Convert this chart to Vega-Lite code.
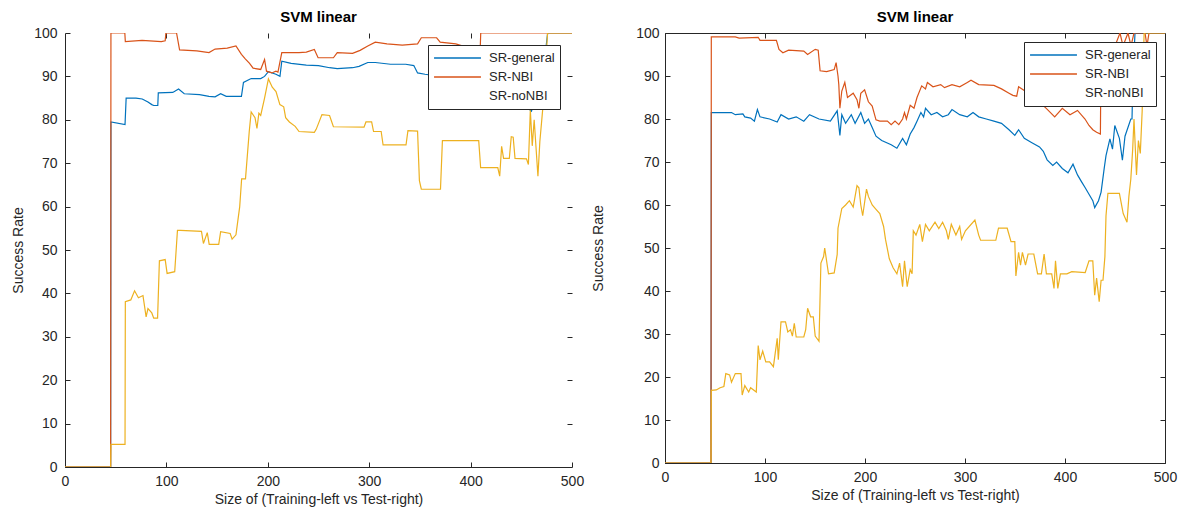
{
  "$schema": "https://vega.github.io/schema/vega-lite/v6.json",
  "background": "white",
  "padding": {"left": 11, "top": 9, "right": 5, "bottom": 5},
  "config": {
    "font": "Liberation Sans",
    "view": {"stroke": null},
    "axis": {"labelFontSize": 14, "titleFontSize": 14, "labelColor": "#262626", "titleColor": "#262626", "domainColor": "#262626", "tickColor": "#262626", "grid": false, "labelFont": "Liberation Sans", "titleFont": "Liberation Sans", "titleFontWeight": "normal", "tickSize": -5, "labelPadding": 13, "labelOverlap": false, "labelFlush": false},
    "title": {"fontSize": 15, "fontWeight": "bold", "color": "#000000", "offset": 1, "anchor": "middle", "font": "Liberation Sans"},
    "legend": {"orient": "top-right", "offset": 12, "title": null, "strokeColor": "#262626", "fillColor": "white", "padding": 5, "symbolType": "stroke", "symbolSize": 2200, "symbolStrokeWidth": 1.5, "labelFontSize": 13, "labelColor": "#262626", "rowPadding": 3, "clipHeight": 16, "labelOffset": 7, "labelLimit": 200, "labelFont": "Liberation Sans"}
  },
  "datasets": {
    "left": [
      {"s":"SR-general","x":0,"y":0},{"s":"SR-general","x":45,"y":0},{"s":"SR-general","x":45.3,"y":79.5},{"s":"SR-general","x":59.2,"y":78.9},{"s":"SR-general","x":60.3,"y":85},{"s":"SR-general","x":70,"y":85},{"s":"SR-general","x":76.2,"y":84.8},{"s":"SR-general","x":81.8,"y":84.1},{"s":"SR-general","x":85.6,"y":83.5},{"s":"SR-general","x":87.5,"y":83.3},{"s":"SR-general","x":91.5,"y":83.3},{"s":"SR-general","x":92,"y":86.2},{"s":"SR-general","x":106.3,"y":86.3},{"s":"SR-general","x":112,"y":87.1},{"s":"SR-general","x":117.6,"y":86},{"s":"SR-general","x":132.7,"y":85.8},{"s":"SR-general","x":142,"y":85.4},{"s":"SR-general","x":148,"y":85.3},{"s":"SR-general","x":153.5,"y":86},{"s":"SR-general","x":159,"y":85.4},{"s":"SR-general","x":174,"y":85.4},{"s":"SR-general","x":176,"y":88.6},{"s":"SR-general","x":183.6,"y":89.5},{"s":"SR-general","x":193,"y":89.5},{"s":"SR-general","x":196.8,"y":90},{"s":"SR-general","x":200.6,"y":91.1},{"s":"SR-general","x":208,"y":90.5},{"s":"SR-general","x":212,"y":90},{"s":"SR-general","x":213.8,"y":93.5},{"s":"SR-general","x":223,"y":93},{"s":"SR-general","x":238,"y":92.6},{"s":"SR-general","x":250,"y":92.5},{"s":"SR-general","x":261,"y":92},{"s":"SR-general","x":268.5,"y":91.8},{"s":"SR-general","x":283.6,"y":92},{"s":"SR-general","x":290,"y":92.3},{"s":"SR-general","x":298.6,"y":93.2},{"s":"SR-general","x":306,"y":93.2},{"s":"SR-general","x":321,"y":92.8},{"s":"SR-general","x":336,"y":92.8},{"s":"SR-general","x":344,"y":92.5},{"s":"SR-general","x":347.7,"y":90.8},{"s":"SR-general","x":355,"y":90.5},{"s":"SR-general","x":370,"y":90},{"s":"SR-general","x":390,"y":89},{"s":"SR-general","x":410,"y":88},{"s":"SR-general","x":430,"y":87},{"s":"SR-general","x":445,"y":85},{"s":"SR-general","x":455,"y":83},{"s":"SR-general","x":460,"y":82},{"s":"SR-general","x":463,"y":84},{"s":"SR-general","x":468,"y":87},{"s":"SR-general","x":472,"y":92},{"s":"SR-general","x":476,"y":100},{"s":"SR-general","x":500,"y":100},
      {"s":"SR-NBI","x":0,"y":0},{"s":"SR-NBI","x":45,"y":0},{"s":"SR-NBI","x":45.3,"y":100},{"s":"SR-NBI","x":59,"y":100},{"s":"SR-NBI","x":59.5,"y":98},{"s":"SR-NBI","x":76,"y":98.3},{"s":"SR-NBI","x":95,"y":98},{"s":"SR-NBI","x":98.8,"y":98.2},{"s":"SR-NBI","x":99.5,"y":100},{"s":"SR-NBI","x":110,"y":100},{"s":"SR-NBI","x":113,"y":96.1},{"s":"SR-NBI","x":130,"y":95.9},{"s":"SR-NBI","x":142,"y":95.5},{"s":"SR-NBI","x":148,"y":96.3},{"s":"SR-NBI","x":160,"y":96.5},{"s":"SR-NBI","x":168.6,"y":97},{"s":"SR-NBI","x":174,"y":95.1},{"s":"SR-NBI","x":178,"y":94},{"s":"SR-NBI","x":182,"y":93},{"s":"SR-NBI","x":185.5,"y":91.9},{"s":"SR-NBI","x":193,"y":91.6},{"s":"SR-NBI","x":196.8,"y":93.9},{"s":"SR-NBI","x":198.7,"y":91.2},{"s":"SR-NBI","x":204,"y":90.8},{"s":"SR-NBI","x":208,"y":91.2},{"s":"SR-NBI","x":210,"y":91},{"s":"SR-NBI","x":213.8,"y":95.5},{"s":"SR-NBI","x":230.8,"y":95.5},{"s":"SR-NBI","x":238,"y":95.6},{"s":"SR-NBI","x":245.9,"y":96.2},{"s":"SR-NBI","x":249.6,"y":94.3},{"s":"SR-NBI","x":264.7,"y":94.3},{"s":"SR-NBI","x":268.5,"y":95.5},{"s":"SR-NBI","x":283.6,"y":95.3},{"s":"SR-NBI","x":291,"y":96},{"s":"SR-NBI","x":298.6,"y":97},{"s":"SR-NBI","x":306,"y":97.9},{"s":"SR-NBI","x":317.5,"y":97.5},{"s":"SR-NBI","x":332.6,"y":97.2},{"s":"SR-NBI","x":347.7,"y":97.5},{"s":"SR-NBI","x":351.4,"y":98.9},{"s":"SR-NBI","x":366.5,"y":98.9},{"s":"SR-NBI","x":370,"y":97.9},{"s":"SR-NBI","x":385.4,"y":97.5},{"s":"SR-NBI","x":394.8,"y":96.8},{"s":"SR-NBI","x":405,"y":96.5},{"s":"SR-NBI","x":409.5,"y":96.5},{"s":"SR-NBI","x":410,"y":100},{"s":"SR-NBI","x":500,"y":100},
      {"s":"SR-noNBI","x":0,"y":0},{"s":"SR-noNBI","x":45,"y":0},{"s":"SR-noNBI","x":45.3,"y":5.2},{"s":"SR-noNBI","x":59.2,"y":5.2},{"s":"SR-noNBI","x":59.5,"y":38.1},{"s":"SR-noNBI","x":64.9,"y":38.5},{"s":"SR-noNBI","x":68.6,"y":40.6},{"s":"SR-noNBI","x":72.4,"y":39},{"s":"SR-noNBI","x":76.9,"y":39.5},{"s":"SR-noNBI","x":80,"y":34.6},{"s":"SR-noNBI","x":81.8,"y":36.5},{"s":"SR-noNBI","x":85.6,"y":35.5},{"s":"SR-noNBI","x":87.5,"y":34.3},{"s":"SR-noNBI","x":91.3,"y":34.3},{"s":"SR-noNBI","x":93.1,"y":47.5},{"s":"SR-noNBI","x":98.8,"y":47.8},{"s":"SR-noNBI","x":100.7,"y":44.6},{"s":"SR-noNBI","x":108.2,"y":45},{"s":"SR-noNBI","x":110.9,"y":54.5},{"s":"SR-noNBI","x":113.9,"y":54.5},{"s":"SR-noNBI","x":134.6,"y":54.3},{"s":"SR-noNBI","x":136.5,"y":51.5},{"s":"SR-noNBI","x":140.3,"y":54},{"s":"SR-noNBI","x":142.2,"y":51.3},{"s":"SR-noNBI","x":151.6,"y":51.3},{"s":"SR-noNBI","x":153.5,"y":54.2},{"s":"SR-noNBI","x":162.9,"y":53.8},{"s":"SR-noNBI","x":164.8,"y":52.5},{"s":"SR-noNBI","x":168.6,"y":53.5},{"s":"SR-noNBI","x":172.3,"y":60},{"s":"SR-noNBI","x":174.2,"y":66.4},{"s":"SR-noNBI","x":178,"y":66.4},{"s":"SR-noNBI","x":181.7,"y":77.3},{"s":"SR-noNBI","x":183.6,"y":81.8},{"s":"SR-noNBI","x":187.4,"y":80.5},{"s":"SR-noNBI","x":189.3,"y":78},{"s":"SR-noNBI","x":191.2,"y":81.5},{"s":"SR-noNBI","x":193,"y":81},{"s":"SR-noNBI","x":196.8,"y":85},{"s":"SR-noNBI","x":200.6,"y":89.4},{"s":"SR-noNBI","x":204.4,"y":87.5},{"s":"SR-noNBI","x":208.1,"y":86.5},{"s":"SR-noNBI","x":211.9,"y":83.5},{"s":"SR-noNBI","x":215.7,"y":83},{"s":"SR-noNBI","x":217.6,"y":80.5},{"s":"SR-noNBI","x":221.3,"y":79.5},{"s":"SR-noNBI","x":227,"y":78.5},{"s":"SR-noNBI","x":230.8,"y":77.3},{"s":"SR-noNBI","x":245.9,"y":77.1},{"s":"SR-noNBI","x":247.7,"y":77.8},{"s":"SR-noNBI","x":253.4,"y":81.2},{"s":"SR-noNBI","x":260.9,"y":81},{"s":"SR-noNBI","x":264.7,"y":78.4},{"s":"SR-noNBI","x":294.9,"y":78.3},{"s":"SR-noNBI","x":296.8,"y":79.5},{"s":"SR-noNBI","x":302.4,"y":79.5},{"s":"SR-noNBI","x":304.3,"y":77.3},{"s":"SR-noNBI","x":311.8,"y":77.3},{"s":"SR-noNBI","x":313.7,"y":74.2},{"s":"SR-noNBI","x":336.3,"y":74.2},{"s":"SR-noNBI","x":338.2,"y":77.5},{"s":"SR-noNBI","x":347.7,"y":77.4},{"s":"SR-noNBI","x":349.5,"y":66},{"s":"SR-noNBI","x":351.4,"y":64},{"s":"SR-noNBI","x":370.3,"y":64},{"s":"SR-noNBI","x":372.2,"y":75.2},{"s":"SR-noNBI","x":408,"y":75.2},{"s":"SR-noNBI","x":409.9,"y":69},{"s":"SR-noNBI","x":426.8,"y":69},{"s":"SR-noNBI","x":428.7,"y":67},{"s":"SR-noNBI","x":430.6,"y":73.9},{"s":"SR-noNBI","x":432.5,"y":71.1},{"s":"SR-noNBI","x":438.2,"y":71.1},{"s":"SR-noNBI","x":440.1,"y":76.1},{"s":"SR-noNBI","x":442,"y":76},{"s":"SR-noNBI","x":443.8,"y":71.1},{"s":"SR-noNBI","x":455.1,"y":71},{"s":"SR-noNBI","x":457,"y":69.7},{"s":"SR-noNBI","x":458.9,"y":82.2},{"s":"SR-noNBI","x":460.8,"y":74},{"s":"SR-noNBI","x":462.7,"y":80},{"s":"SR-noNBI","x":466.4,"y":67},{"s":"SR-noNBI","x":468.3,"y":75},{"s":"SR-noNBI","x":472.1,"y":85},{"s":"SR-noNBI","x":475.9,"y":100},{"s":"SR-noNBI","x":500,"y":100}
    ],
    "right": [
      {"s":"SR-general","x":0,"y":0},{"s":"SR-general","x":46,"y":0},{"s":"SR-general","x":46.3,"y":81.5},{"s":"SR-general","x":66.5,"y":81.5},{"s":"SR-general","x":70.3,"y":81},{"s":"SR-general","x":77.9,"y":81.2},{"s":"SR-general","x":79.8,"y":80.5},{"s":"SR-general","x":85.6,"y":80.2},{"s":"SR-general","x":89.4,"y":79.5},{"s":"SR-general","x":92.4,"y":82.2},{"s":"SR-general","x":95,"y":80.5},{"s":"SR-general","x":104.6,"y":80},{"s":"SR-general","x":112.2,"y":79.3},{"s":"SR-general","x":116,"y":81},{"s":"SR-general","x":123.6,"y":80},{"s":"SR-general","x":131.2,"y":80.5},{"s":"SR-general","x":138.8,"y":79.5},{"s":"SR-general","x":144.5,"y":81},{"s":"SR-general","x":154,"y":80},{"s":"SR-general","x":165.4,"y":79.5},{"s":"SR-general","x":172.2,"y":81.9},{"s":"SR-general","x":174.9,"y":76.2},{"s":"SR-general","x":176.8,"y":81},{"s":"SR-general","x":180.6,"y":79},{"s":"SR-general","x":186.3,"y":81},{"s":"SR-general","x":190.1,"y":79},{"s":"SR-general","x":195.8,"y":81.5},{"s":"SR-general","x":199.6,"y":79},{"s":"SR-general","x":203.4,"y":80},{"s":"SR-general","x":207.2,"y":78},{"s":"SR-general","x":211,"y":76},{"s":"SR-general","x":216.7,"y":75},{"s":"SR-general","x":226.2,"y":74},{"s":"SR-general","x":231.9,"y":73.2},{"s":"SR-general","x":237.6,"y":75.5},{"s":"SR-general","x":241.4,"y":74},{"s":"SR-general","x":245.2,"y":76.5},{"s":"SR-general","x":249,"y":78},{"s":"SR-general","x":252,"y":79.5},{"s":"SR-general","x":255.9,"y":81.5},{"s":"SR-general","x":258.6,"y":80.5},{"s":"SR-general","x":260.5,"y":82.5},{"s":"SR-general","x":266.2,"y":81},{"s":"SR-general","x":271.9,"y":81.5},{"s":"SR-general","x":277.6,"y":80.5},{"s":"SR-general","x":283.3,"y":81},{"s":"SR-general","x":287,"y":82.2},{"s":"SR-general","x":294.7,"y":81},{"s":"SR-general","x":302.3,"y":80.5},{"s":"SR-general","x":308,"y":81.5},{"s":"SR-general","x":313.7,"y":80.5},{"s":"SR-general","x":321.3,"y":80},{"s":"SR-general","x":328.9,"y":79.5},{"s":"SR-general","x":336.5,"y":79},{"s":"SR-general","x":344,"y":77.5},{"s":"SR-general","x":349.8,"y":76.2},{"s":"SR-general","x":353.6,"y":77.5},{"s":"SR-general","x":359.3,"y":75.5},{"s":"SR-general","x":366.9,"y":74.5},{"s":"SR-general","x":374.5,"y":73.5},{"s":"SR-general","x":378.3,"y":72.5},{"s":"SR-general","x":382.1,"y":70.5},{"s":"SR-general","x":387.8,"y":69.2},{"s":"SR-general","x":391.6,"y":70},{"s":"SR-general","x":397.3,"y":68.5},{"s":"SR-general","x":403,"y":67.5},{"s":"SR-general","x":408,"y":69.5},{"s":"SR-general","x":412.5,"y":67},{"s":"SR-general","x":416.3,"y":65.5},{"s":"SR-general","x":420.2,"y":64},{"s":"SR-general","x":424,"y":62.5},{"s":"SR-general","x":427.8,"y":61},{"s":"SR-general","x":429.7,"y":59.4},{"s":"SR-general","x":433.5,"y":61},{"s":"SR-general","x":436.1,"y":63},{"s":"SR-general","x":439.2,"y":68.5},{"s":"SR-general","x":441,"y":71.5},{"s":"SR-general","x":444.9,"y":75.4},{"s":"SR-general","x":447.5,"y":73},{"s":"SR-general","x":449.8,"y":78.5},{"s":"SR-general","x":454.4,"y":75.5},{"s":"SR-general","x":457.4,"y":70.4},{"s":"SR-general","x":460,"y":76},{"s":"SR-general","x":465.8,"y":80},{"s":"SR-general","x":467,"y":80},{"s":"SR-general","x":468,"y":90},{"s":"SR-general","x":470,"y":100},{"s":"SR-general","x":500,"y":100},
      {"s":"SR-NBI","x":0,"y":0},{"s":"SR-NBI","x":46,"y":0},{"s":"SR-NBI","x":46.3,"y":99.1},{"s":"SR-NBI","x":70.3,"y":99.1},{"s":"SR-NBI","x":74.1,"y":98.8},{"s":"SR-NBI","x":93.2,"y":99},{"s":"SR-NBI","x":95,"y":98.3},{"s":"SR-NBI","x":111.4,"y":98.3},{"s":"SR-NBI","x":114,"y":96.2},{"s":"SR-NBI","x":117.9,"y":95.4},{"s":"SR-NBI","x":123.6,"y":96},{"s":"SR-NBI","x":138.8,"y":95.8},{"s":"SR-NBI","x":142.6,"y":95},{"s":"SR-NBI","x":150.2,"y":96.2},{"s":"SR-NBI","x":153.2,"y":96},{"s":"SR-NBI","x":155.1,"y":91.2},{"s":"SR-NBI","x":161.6,"y":91},{"s":"SR-NBI","x":169.2,"y":91.5},{"s":"SR-NBI","x":171.1,"y":93.1},{"s":"SR-NBI","x":173,"y":90},{"s":"SR-NBI","x":173.8,"y":88},{"s":"SR-NBI","x":174.9,"y":82.5},{"s":"SR-NBI","x":176.8,"y":86.5},{"s":"SR-NBI","x":179.8,"y":88.5},{"s":"SR-NBI","x":182.5,"y":85},{"s":"SR-NBI","x":188.2,"y":86},{"s":"SR-NBI","x":192,"y":84.5},{"s":"SR-NBI","x":193.9,"y":82.5},{"s":"SR-NBI","x":195.8,"y":86},{"s":"SR-NBI","x":199.6,"y":86.8},{"s":"SR-NBI","x":203.4,"y":84},{"s":"SR-NBI","x":207.2,"y":83},{"s":"SR-NBI","x":211,"y":79.8},{"s":"SR-NBI","x":214.8,"y":79.5},{"s":"SR-NBI","x":222.4,"y":79.5},{"s":"SR-NBI","x":226.2,"y":78.7},{"s":"SR-NBI","x":230,"y":79.5},{"s":"SR-NBI","x":233.8,"y":78.7},{"s":"SR-NBI","x":237.6,"y":80},{"s":"SR-NBI","x":239.5,"y":81.5},{"s":"SR-NBI","x":241.4,"y":80},{"s":"SR-NBI","x":245.2,"y":83.2},{"s":"SR-NBI","x":249,"y":82.5},{"s":"SR-NBI","x":252,"y":85},{"s":"SR-NBI","x":256.7,"y":87.7},{"s":"SR-NBI","x":260.5,"y":87},{"s":"SR-NBI","x":262.4,"y":88.5},{"s":"SR-NBI","x":268,"y":87.5},{"s":"SR-NBI","x":275.7,"y":88},{"s":"SR-NBI","x":279.5,"y":87.3},{"s":"SR-NBI","x":287,"y":88},{"s":"SR-NBI","x":294.7,"y":87.5},{"s":"SR-NBI","x":302.3,"y":88.5},{"s":"SR-NBI","x":306,"y":89},{"s":"SR-NBI","x":313.7,"y":88},{"s":"SR-NBI","x":328.9,"y":87.8},{"s":"SR-NBI","x":336.5,"y":87},{"s":"SR-NBI","x":344,"y":86},{"s":"SR-NBI","x":347.9,"y":85.5},{"s":"SR-NBI","x":351.7,"y":85.3},{"s":"SR-NBI","x":353.6,"y":87.5},{"s":"SR-NBI","x":360,"y":86.5},{"s":"SR-NBI","x":370,"y":85},{"s":"SR-NBI","x":382,"y":82.3},{"s":"SR-NBI","x":389.7,"y":80.5},{"s":"SR-NBI","x":397.3,"y":82.5},{"s":"SR-NBI","x":405,"y":81},{"s":"SR-NBI","x":412.5,"y":82},{"s":"SR-NBI","x":420,"y":80},{"s":"SR-NBI","x":424,"y":78.5},{"s":"SR-NBI","x":427.8,"y":77.5},{"s":"SR-NBI","x":431.6,"y":76.9},{"s":"SR-NBI","x":435.4,"y":76.5},{"s":"SR-NBI","x":436,"y":95},{"s":"SR-NBI","x":450,"y":97},{"s":"SR-NBI","x":455,"y":100},{"s":"SR-NBI","x":458,"y":97},{"s":"SR-NBI","x":463,"y":100},{"s":"SR-NBI","x":466,"y":97},{"s":"SR-NBI","x":469,"y":100},{"s":"SR-NBI","x":480,"y":100},{"s":"SR-NBI","x":482,"y":97},{"s":"SR-NBI","x":484,"y":100},{"s":"SR-NBI","x":500,"y":100},
      {"s":"SR-noNBI","x":0,"y":0},{"s":"SR-noNBI","x":46,"y":0},{"s":"SR-noNBI","x":46.3,"y":16.9},{"s":"SR-noNBI","x":51.3,"y":17},{"s":"SR-noNBI","x":55.1,"y":17.5},{"s":"SR-noNBI","x":58.9,"y":17.8},{"s":"SR-noNBI","x":60.8,"y":20.8},{"s":"SR-noNBI","x":64.6,"y":20.5},{"s":"SR-noNBI","x":66.5,"y":18.8},{"s":"SR-noNBI","x":70.3,"y":20.8},{"s":"SR-noNBI","x":76,"y":20.8},{"s":"SR-noNBI","x":77.2,"y":15.8},{"s":"SR-noNBI","x":79.8,"y":18},{"s":"SR-noNBI","x":83.7,"y":16.5},{"s":"SR-noNBI","x":85.6,"y":17.5},{"s":"SR-noNBI","x":91.3,"y":16.5},{"s":"SR-noNBI","x":93.2,"y":27.3},{"s":"SR-noNBI","x":95,"y":24},{"s":"SR-noNBI","x":97.7,"y":26},{"s":"SR-noNBI","x":100.8,"y":23.5},{"s":"SR-noNBI","x":104.6,"y":23.5},{"s":"SR-noNBI","x":108.4,"y":22.4},{"s":"SR-noNBI","x":112.2,"y":29},{"s":"SR-noNBI","x":113.3,"y":24},{"s":"SR-noNBI","x":116,"y":32.8},{"s":"SR-noNBI","x":120.5,"y":32.8},{"s":"SR-noNBI","x":122.8,"y":30.5},{"s":"SR-noNBI","x":125.5,"y":31},{"s":"SR-noNBI","x":127.4,"y":29.5},{"s":"SR-noNBI","x":129.3,"y":32.5},{"s":"SR-noNBI","x":131.2,"y":29.3},{"s":"SR-noNBI","x":138.8,"y":29.3},{"s":"SR-noNBI","x":140.7,"y":31},{"s":"SR-noNBI","x":142.6,"y":36},{"s":"SR-noNBI","x":145.6,"y":34},{"s":"SR-noNBI","x":148.3,"y":34},{"s":"SR-noNBI","x":150.2,"y":29.5},{"s":"SR-noNBI","x":154,"y":28.3},{"s":"SR-noNBI","x":155.9,"y":46.5},{"s":"SR-noNBI","x":158.6,"y":48},{"s":"SR-noNBI","x":159.7,"y":50},{"s":"SR-noNBI","x":163.5,"y":44},{"s":"SR-noNBI","x":169.2,"y":44.2},{"s":"SR-noNBI","x":172.2,"y":48.5},{"s":"SR-noNBI","x":173,"y":54.6},{"s":"SR-noNBI","x":176.8,"y":59.2},{"s":"SR-noNBI","x":180.6,"y":60},{"s":"SR-noNBI","x":184.4,"y":61},{"s":"SR-noNBI","x":188.2,"y":59.5},{"s":"SR-noNBI","x":190.1,"y":62},{"s":"SR-noNBI","x":192,"y":64.5},{"s":"SR-noNBI","x":193.9,"y":64},{"s":"SR-noNBI","x":195.8,"y":60},{"s":"SR-noNBI","x":197.7,"y":57.5},{"s":"SR-noNBI","x":201.5,"y":63.7},{"s":"SR-noNBI","x":203.4,"y":62},{"s":"SR-noNBI","x":207.2,"y":60},{"s":"SR-noNBI","x":211,"y":59},{"s":"SR-noNBI","x":214.8,"y":58},{"s":"SR-noNBI","x":218.6,"y":55},{"s":"SR-noNBI","x":220.5,"y":52},{"s":"SR-noNBI","x":224.3,"y":47.5},{"s":"SR-noNBI","x":228.1,"y":45.4},{"s":"SR-noNBI","x":231.9,"y":44},{"s":"SR-noNBI","x":234.6,"y":46.5},{"s":"SR-noNBI","x":237.6,"y":41},{"s":"SR-noNBI","x":239.5,"y":47},{"s":"SR-noNBI","x":242.2,"y":41},{"s":"SR-noNBI","x":245.2,"y":45},{"s":"SR-noNBI","x":247.1,"y":44},{"s":"SR-noNBI","x":248.3,"y":54},{"s":"SR-noNBI","x":251,"y":53},{"s":"SR-noNBI","x":254.8,"y":55.5},{"s":"SR-noNBI","x":257.4,"y":51.5},{"s":"SR-noNBI","x":260.5,"y":55.5},{"s":"SR-noNBI","x":264.3,"y":54},{"s":"SR-noNBI","x":270,"y":56},{"s":"SR-noNBI","x":273.8,"y":54.5},{"s":"SR-noNBI","x":277.6,"y":56},{"s":"SR-noNBI","x":281.4,"y":54},{"s":"SR-noNBI","x":283.3,"y":52},{"s":"SR-noNBI","x":286.3,"y":55.5},{"s":"SR-noNBI","x":290.9,"y":53},{"s":"SR-noNBI","x":294.7,"y":55},{"s":"SR-noNBI","x":296.6,"y":52},{"s":"SR-noNBI","x":300.4,"y":54},{"s":"SR-noNBI","x":309.9,"y":56.5},{"s":"SR-noNBI","x":313.7,"y":53},{"s":"SR-noNBI","x":315.6,"y":51.8},{"s":"SR-noNBI","x":330.8,"y":51.8},{"s":"SR-noNBI","x":333.5,"y":54.6},{"s":"SR-noNBI","x":342.2,"y":54.6},{"s":"SR-noNBI","x":346,"y":51.5},{"s":"SR-noNBI","x":349.8,"y":51.5},{"s":"SR-noNBI","x":350.9,"y":43.5},{"s":"SR-noNBI","x":353.6,"y":49},{"s":"SR-noNBI","x":355.5,"y":46},{"s":"SR-noNBI","x":357.4,"y":49},{"s":"SR-noNBI","x":360.5,"y":46},{"s":"SR-noNBI","x":363.1,"y":48.6},{"s":"SR-noNBI","x":368.8,"y":48.6},{"s":"SR-noNBI","x":372.6,"y":44},{"s":"SR-noNBI","x":376.4,"y":44},{"s":"SR-noNBI","x":379.1,"y":48.6},{"s":"SR-noNBI","x":381.4,"y":44},{"s":"SR-noNBI","x":386.7,"y":44},{"s":"SR-noNBI","x":389,"y":40.6},{"s":"SR-noNBI","x":390.5,"y":47},{"s":"SR-noNBI","x":392.8,"y":40.6},{"s":"SR-noNBI","x":395.4,"y":44},{"s":"SR-noNBI","x":401.9,"y":44},{"s":"SR-noNBI","x":406.8,"y":44.5},{"s":"SR-noNBI","x":420.2,"y":44.3},{"s":"SR-noNBI","x":424,"y":47},{"s":"SR-noNBI","x":427.8,"y":47},{"s":"SR-noNBI","x":429.7,"y":39},{"s":"SR-noNBI","x":431.6,"y":43},{"s":"SR-noNBI","x":434.2,"y":37.5},{"s":"SR-noNBI","x":436.1,"y":42.5},{"s":"SR-noNBI","x":438,"y":42.5},{"s":"SR-noNBI","x":439.9,"y":48},{"s":"SR-noNBI","x":441,"y":57.5},{"s":"SR-noNBI","x":442.9,"y":62.7},{"s":"SR-noNBI","x":454.4,"y":62.7},{"s":"SR-noNBI","x":458.2,"y":58},{"s":"SR-noNBI","x":462,"y":56},{"s":"SR-noNBI","x":463.9,"y":62},{"s":"SR-noNBI","x":465.8,"y":66},{"s":"SR-noNBI","x":467.7,"y":73},{"s":"SR-noNBI","x":469,"y":80},{"s":"SR-noNBI","x":471.5,"y":67},{"s":"SR-noNBI","x":473.4,"y":75},{"s":"SR-noNBI","x":475.3,"y":72},{"s":"SR-noNBI","x":477.2,"y":82},{"s":"SR-noNBI","x":479.1,"y":100},{"s":"SR-noNBI","x":500,"y":100}
    ]
  },
  "spacing": 7,
  "resolve": {"legend": {"color": "independent"}},
  "hconcat": [
    {
      "width": 507, "height": 434,
      "title": "SVM linear",
      "data": {"name": "left"},
      "resolve": {"axis": {"x": "independent", "y": "independent"}},
      "layer": [
        {
          "mark": {"type": "line", "strokeWidth": 1.2, "clip": true},
          "encoding": {
            "x": {"field": "x", "type": "quantitative", "scale": {"domain": [0, 500], "nice": false}, "axis": {"orient": "bottom", "values": [0,100,200,300,400,500], "labelPadding": 12, "title": "Size of (Training-left vs Test-right)", "titlePadding": 4}},
            "y": {"field": "y", "type": "quantitative", "scale": {"domain": [0, 100], "nice": false}, "axis": {"orient": "left", "values": [0,10,20,30,40,50,60,70,80,90,100], "title": "Success Rate", "titlePadding": 8}},
            "color": {"field": "s", "type": "nominal", "scale": {"domain": ["SR-general", "SR-NBI", "SR-noNBI"], "range": ["#0072BD", "#D95319", "#EDB120"]}, "legend": {"encode": {"symbols": {"update": {"opacity": {"signal": "datum.value === 'SR-noNBI' ? 0 : 1"}}}}}}
          }
        },
        {
          "mark": {"type": "line", "opacity": 0},
          "encoding": {
            "x": {"field": "x", "type": "quantitative", "axis": {"orient": "top", "values": [100,200,300,400], "labels": false, "domain": false, "title": null}},
            "y": {"field": "y", "type": "quantitative", "axis": {"orient": "right", "values": [10,20,30,40,50,60,70,80,90], "labels": false, "domain": false, "title": null}}
          }
        }
      ]
    },
    {
      "width": 500, "height": 430,
      "title": "SVM linear",
      "data": {"name": "right"},
      "view": {"stroke": "#262626"},
      "resolve": {"axis": {"x": "independent", "y": "independent"}},
      "layer": [
        {
          "mark": {"type": "line", "strokeWidth": 1.2, "clip": true},
          "encoding": {
            "x": {"field": "x", "type": "quantitative", "scale": {"domain": [0, 500], "nice": false}, "axis": {"orient": "bottom", "values": [0,100,200,300,400,500], "labelPadding": 12, "title": "Size of (Training-left vs Test-right)", "titlePadding": 4}},
            "y": {"field": "y", "type": "quantitative", "scale": {"domain": [0, 100], "nice": false}, "axis": {"orient": "left", "values": [0,10,20,30,40,50,60,70,80,90,100], "title": "Success Rate", "titlePadding": 30, "labelPadding": 11}},
            "color": {"field": "s", "type": "nominal", "scale": {"domain": ["SR-general", "SR-NBI", "SR-noNBI"], "range": ["#0072BD", "#D95319", "#EDB120"]}, "legend": {"offset": 9, "encode": {"symbols": {"update": {"opacity": {"signal": "datum.value === 'SR-noNBI' ? 0 : 1"}}}}}}
          }
        },
        {
          "mark": {"type": "line", "opacity": 0},
          "encoding": {
            "x": {"field": "x", "type": "quantitative", "axis": {"orient": "top", "values": [100,200,300,400], "labels": false, "domain": false, "title": null}},
            "y": {"field": "y", "type": "quantitative", "axis": {"orient": "right", "values": [10,20,30,40,50,60,70,80,90], "labels": false, "domain": false, "title": null}}
          }
        }
      ]
    }
  ]
}
